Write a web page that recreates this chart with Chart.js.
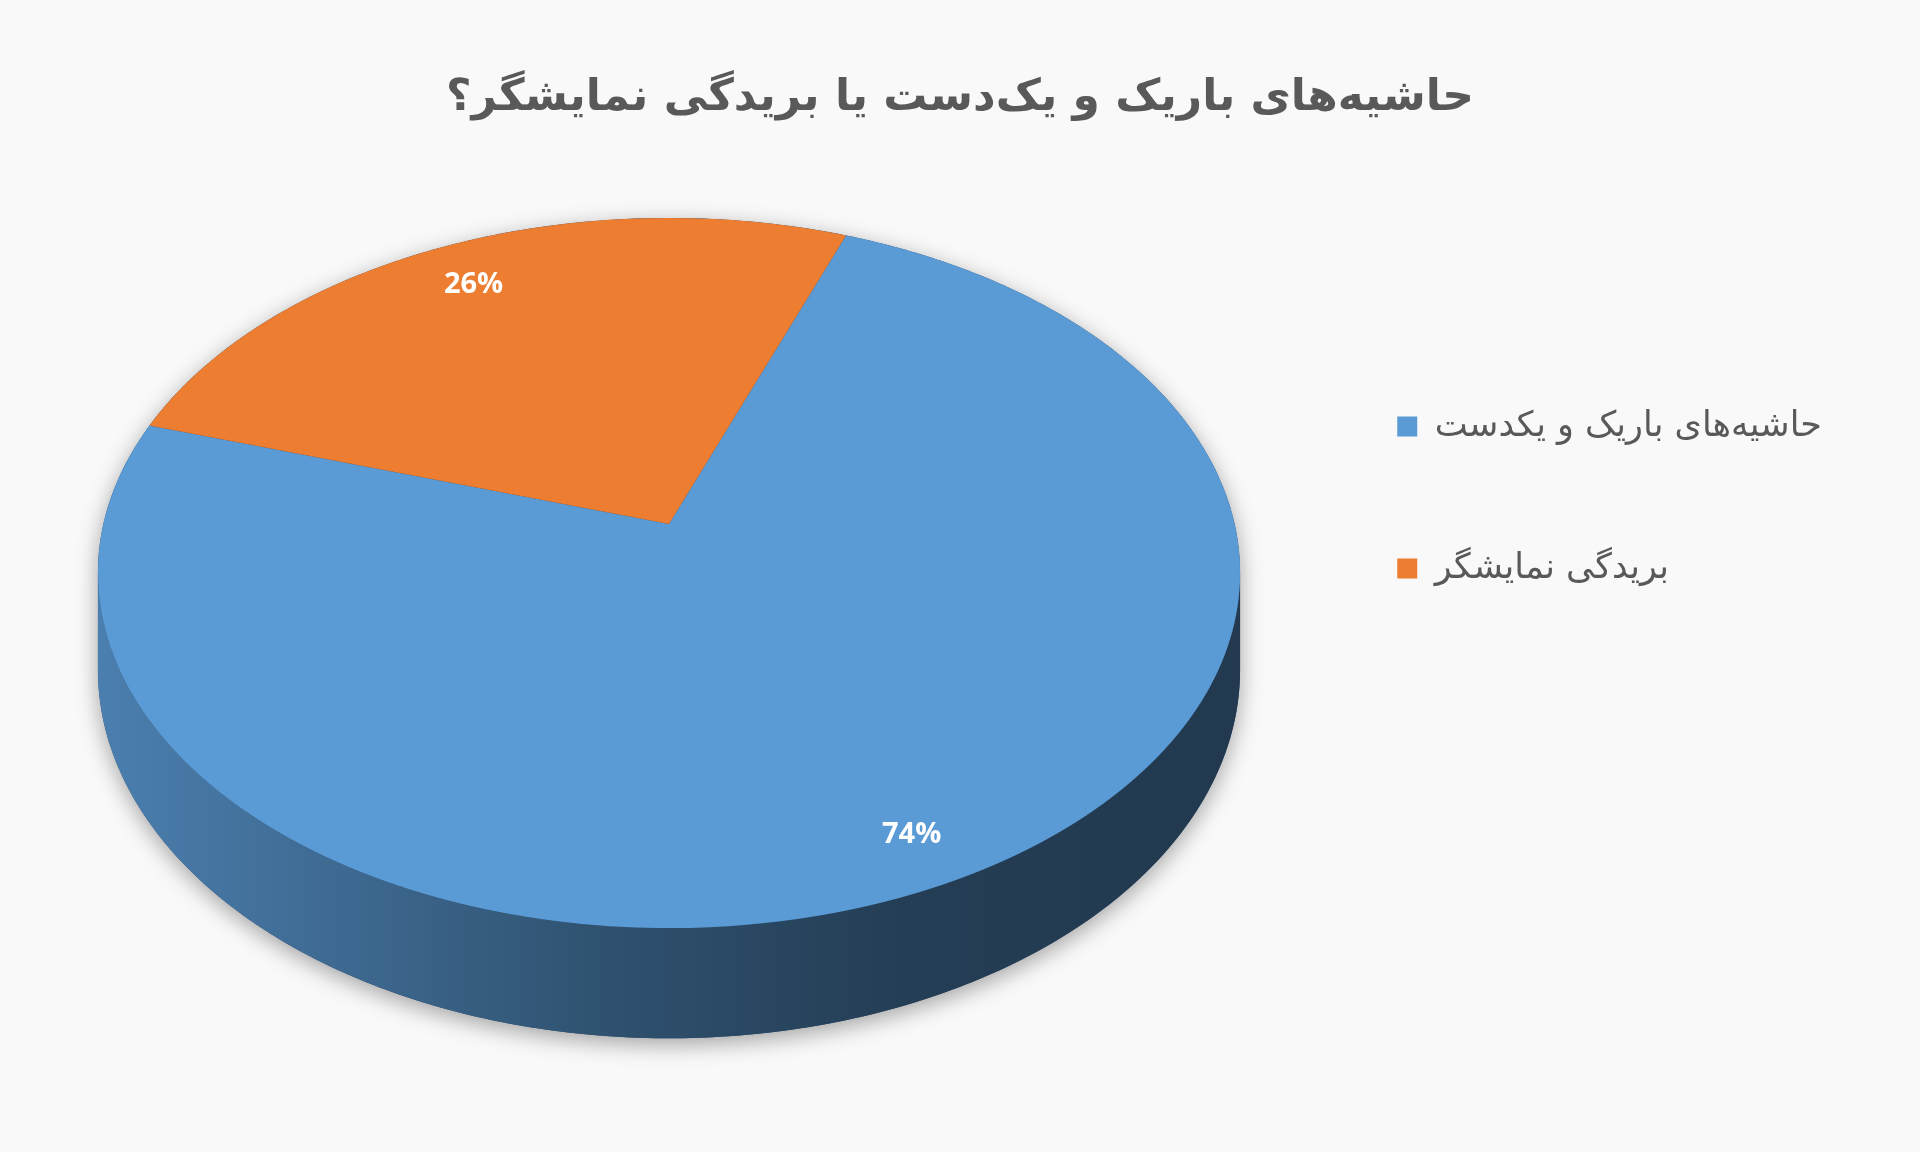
<!DOCTYPE html>
<html>
<head>
<meta charset="utf-8">
<script src="https://cdn.jsdelivr.net/npm/chart.js@4.4.1/dist/chart.umd.min.js"></script>
<style>
  html, body { margin: 0; padding: 0; background: #f9f9f9; }
  #chart { display: block; width: 1920px; height: 1152px; }
</style>
</head>
<body>
<canvas id="chart" width="1920" height="1152"></canvas>
<script>
// data
const sliceLabels = ['حاشیه‌های باریک و یکدست', 'بریدگی نمایشگر'];
const sliceShares = [74, 26];
const sliceColors = ['#5b9bd5', '#ed7d31'];
const chartTitle = 'حاشیه‌های باریک و یک‌دست یا بریدگی نمایشگر؟';

function _shade(hex, f) {
  const n = parseInt(hex.slice(1), 16);
  const r = Math.round(((n >> 16) & 255) * f);
  const g = Math.round(((n >> 8) & 255) * f);
  const b = Math.round((n & 255) * f);
  return `rgb(${r},${g},${b})`;
}

// simple perspective: unit disc (u, v) -> screen, v > 0 is nearer the viewer
function _project(u, v, P) {
  const w = 1 / (1 - P.k * v);
  return [P.cx + P.a * u * w, P.cy + P.b * v * w];
}
function _unprojectV(y, P) {
  const t = (y - P.cy) / P.b;
  return t / (1 + P.k * t);
}
function _rimPoint(theta, P, drop) {
  const v = Math.sin(theta);
  const p = _project(Math.cos(theta), v, P);
  if (drop) p[1] += P.depth / (1 - P.k * v);
  return p;
}

// fake 3D: draw the library's arcs onto a tilted disc, strip by strip, plus a side wall
const pie3d = {
  id: 'pie3d',
  beforeDraw(chart, args, opts) {
    const ctx = chart.ctx;
    ctx.save();
    ctx.fillStyle = opts.background;
    ctx.fillRect(0, 0, chart.width, chart.height);
    ctx.restore();
  },
  beforeDatasetsDraw(chart, args, P) {
    const ctx = chart.ctx;
    const meta = chart.getDatasetMeta(0);
    const TAU = Math.PI * 2;
    const thR = Math.asin(P.k), thL = Math.PI - Math.asin(P.k);
    const N = 240;

    // shadow under the whole disc
    ctx.save();
    ctx.shadowColor = 'rgba(0,0,0,0.35)';
    ctx.shadowBlur = 22;
    ctx.shadowOffsetY = 6;
    ctx.fillStyle = '#2a4866';
    ctx.beginPath();
    for (let i = 0; i <= N; i++) {
      const p = _rimPoint(thL + (thR + TAU - thL) * i / N, P, false);
      i ? ctx.lineTo(p[0], p[1]) : ctx.moveTo(p[0], p[1]);
    }
    for (let i = 0; i <= N; i++) {
      const p = _rimPoint(thR + (thL - thR) * i / N, P, true);
      ctx.lineTo(p[0], p[1]);
    }
    ctx.closePath();
    ctx.fill();
    ctx.restore();

    // side wall, one piece per slice where it faces the viewer
    meta.data.forEach((arc, i) => {
      for (let k = -1; k <= 1; k++) {
        const s = Math.max(arc.startAngle + k * TAU, thR);
        const e = Math.min(arc.endAngle + k * TAU, thL);
        if (e <= s) continue;
        const col = sliceColors[i];
        const grad = ctx.createLinearGradient(P.cx - P.rx, 0, P.cx + P.rx, 0);
        grad.addColorStop(0, _shade(col, 0.82));
        grad.addColorStop(0.45, _shade(col, 0.52));
        grad.addColorStop(0.7, _shade(col, 0.4));
        grad.addColorStop(1, _shade(col, 0.37));
        ctx.save();
        ctx.fillStyle = grad;
        ctx.beginPath();
        const n = Math.max(8, Math.ceil(N * (e - s) / Math.PI));
        for (let j = 0; j <= n; j++) {
          const p = _rimPoint(s + (e - s) * j / n, P, false);
          j ? ctx.lineTo(p[0], p[1]) : ctx.moveTo(p[0], p[1]);
        }
        for (let j = n; j >= 0; j--) {
          const p = _rimPoint(s + (e - s) * j / n, P, true);
          ctx.lineTo(p[0], p[1]);
        }
        ctx.closePath();
        ctx.fill();
        ctx.restore();
      }
    });

    // top face: the library's arcs, re-drawn per 2px strip with a local transform
    const a0 = meta.data[0];
    const ax = a0.x, ay = a0.y, r = a0.outerRadius;
    const yTop = Math.floor(P.cy - P.b / (1 + P.k));
    const yBot = Math.ceil(P.cy + P.b / (1 - P.k));
    const step = 2;
    for (let y = yTop; y < yBot; y += step) {
      const y2 = Math.min(y + step, yBot);
      const v1 = _unprojectV(y, P), v2 = _unprojectV(y2, P);
      const vm = (v1 + v2) / 2;
      const sx = P.a / (1 - P.k * vm) / r;
      const sy = (y2 - y) / ((v2 - v1) * r);
      ctx.save();
      ctx.beginPath();
      ctx.rect(0, y, chart.width, y2 - y);
      ctx.clip();
      ctx.setTransform(sx, 0, 0, sy, P.cx - sx * ax, y - sy * (ay + v1 * r));
      meta.data.forEach(arc => arc.draw(ctx));
      ctx.restore();
    }

    // percentage labels
    const total = sliceShares.reduce((s, v) => s + v, 0);
    ctx.save();
    ctx.fillStyle = '#ffffff';
    ctx.font = 'bold 29px "Open Sans"';
    ctx.textAlign = 'center';
    ctx.textBaseline = 'middle';
    meta.data.forEach((arc, i) => {
      const mid = (arc.startAngle + arc.endAngle) / 2;
      const p = _project(Math.cos(mid) * P.labelPos, Math.sin(mid) * P.labelPos, P);
      ctx.fillText(Math.round(sliceShares[i] / total * 100) + '%', p[0], p[1] + 6);
    });
    ctx.restore();
    return false;
  }
};

new Chart(document.getElementById('chart'), {
  type: 'pie',
  data: {
    labels: sliceLabels,
    datasets: [{
      data: sliceShares,
      backgroundColor: sliceColors,
      borderWidth: 0
    }]
  },
  options: {
    responsive: false,
    devicePixelRatio: 1,
    animation: false,
    rotation: 20.7,
    layout: { padding: { left: 88, right: 88, bottom: 157 } },
    plugins: {
      pie3d: {
        background: '#f9f9f9',
        cx: 669, cy: 524, a: 565.6, b: 348.3, k: 0.138, rx: 571,
        depth: 95, labelPos: 0.87
      },
      tooltip: { enabled: false },
      title: {
        display: true,
        text: chartTitle,
        color: '#595959',
        font: { family: 'DejaVu Sans', size: 44, weight: 'bold' },
        padding: { top: 72, bottom: 20 }
      },
      legend: {
        position: 'right',
        labels: {
          color: '#595959',
          font: { family: 'DejaVu Sans', size: 35 },
          boxWidth: 20,
          boxHeight: 20,
          padding: 107
        }
      }
    }
  },
  plugins: [pie3d]
});
</script>
</body>
</html>
